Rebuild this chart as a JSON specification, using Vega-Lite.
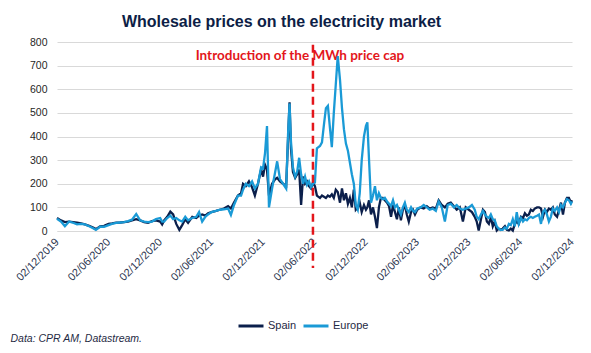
{
  "$schema": "https://vega.github.io/schema/vega-lite/v6.json",
  "autosize": {"type": "none"},
  "padding": {"left": 57, "top": 42, "right": 19, "bottom": 122},
  "width": 515,
  "height": 189,
  "background": "white",
  "config": {
    "view": {"stroke": null},
    "font": "Liberation Sans",
    "axisY": {
      "tickCount": 9,
      "labelOverlap": false,
      "domain": false,
      "ticks": false,
      "grid": true,
      "gridColor": "#d9d9d9",
      "gridWidth": 1,
      "labelFont": "Liberation Sans",
      "labelFontSize": 10.5,
      "labelColor": "#262626",
      "labelPadding": 10,
      "title": null
    }
  },
  "title": {
    "text": "Wholesale prices on the electricity market",
    "font": "Liberation Sans",
    "fontSize": 16,
    "fontWeight": "bold",
    "color": "#0d1e46",
    "anchor": "middle",
    "frame": "group",
    "dx": -33,
    "offset": 7
  },
  "datasets": {
    "prices": [
      {"date": "2019-12-02", "Spain": 55, "Europe": 52},
      {"date": "2019-12-16", "Spain": 45, "Europe": 40},
      {"date": "2019-12-30", "Spain": 38, "Europe": 20},
      {"date": "2020-01-14", "Spain": 40, "Europe": 40},
      {"date": "2020-01-28", "Spain": 38, "Europe": 35},
      {"date": "2020-02-11", "Spain": 35, "Europe": 28},
      {"date": "2020-02-25", "Spain": 32, "Europe": 30},
      {"date": "2020-03-10", "Spain": 28, "Europe": 28},
      {"date": "2020-03-25", "Spain": 22, "Europe": 20},
      {"date": "2020-04-08", "Spain": 15, "Europe": 12},
      {"date": "2020-04-18", "Spain": 8, "Europe": 5},
      {"date": "2020-05-03", "Spain": 20, "Europe": 18},
      {"date": "2020-05-17", "Spain": 22, "Europe": 18},
      {"date": "2020-06-02", "Spain": 30, "Europe": 25},
      {"date": "2020-06-14", "Spain": 32, "Europe": 30},
      {"date": "2020-06-29", "Spain": 35, "Europe": 34},
      {"date": "2020-07-13", "Spain": 36, "Europe": 36},
      {"date": "2020-07-27", "Spain": 38, "Europe": 38},
      {"date": "2020-08-10", "Spain": 40, "Europe": 42},
      {"date": "2020-08-24", "Spain": 45, "Europe": 48},
      {"date": "2020-09-08", "Spain": 50, "Europe": 72},
      {"date": "2020-09-22", "Spain": 45, "Europe": 45},
      {"date": "2020-10-06", "Spain": 38, "Europe": 40},
      {"date": "2020-10-20", "Spain": 35, "Europe": 38},
      {"date": "2020-11-03", "Spain": 42, "Europe": 40},
      {"date": "2020-11-17", "Spain": 45, "Europe": 50},
      {"date": "2020-12-02", "Spain": 40, "Europe": 55},
      {"date": "2020-12-09", "Spain": 28, "Europe": 40},
      {"date": "2020-12-16", "Spain": 45, "Europe": 40},
      {"date": "2020-12-27", "Spain": 60, "Europe": 55},
      {"date": "2021-01-07", "Spain": 82, "Europe": 65},
      {"date": "2021-01-17", "Spain": 70, "Europe": 50},
      {"date": "2021-01-28", "Spain": 30, "Europe": 55},
      {"date": "2021-02-08", "Spain": 5, "Europe": 45},
      {"date": "2021-02-18", "Spain": 25, "Europe": 40},
      {"date": "2021-03-01", "Spain": 50, "Europe": 60},
      {"date": "2021-03-11", "Spain": 35, "Europe": 45},
      {"date": "2021-03-26", "Spain": 60, "Europe": 55},
      {"date": "2021-04-09", "Spain": 55, "Europe": 60},
      {"date": "2021-04-19", "Spain": 65, "Europe": 80},
      {"date": "2021-04-30", "Spain": 70, "Europe": 40},
      {"date": "2021-05-11", "Spain": 65, "Europe": 60},
      {"date": "2021-05-21", "Spain": 75, "Europe": 70},
      {"date": "2021-06-02", "Spain": 80, "Europe": 80},
      {"date": "2021-06-18", "Spain": 85, "Europe": 85},
      {"date": "2021-07-02", "Spain": 90, "Europe": 90},
      {"date": "2021-07-16", "Spain": 95, "Europe": 92},
      {"date": "2021-07-31", "Spain": 105, "Europe": 95},
      {"date": "2021-08-10", "Spain": 95, "Europe": 68},
      {"date": "2021-08-21", "Spain": 120, "Europe": 110},
      {"date": "2021-09-04", "Spain": 150, "Europe": 150},
      {"date": "2021-09-15", "Spain": 160, "Europe": 150},
      {"date": "2021-09-22", "Spain": 200, "Europe": 175},
      {"date": "2021-10-02", "Spain": 190, "Europe": 200},
      {"date": "2021-10-13", "Spain": 210, "Europe": 190},
      {"date": "2021-10-24", "Spain": 185, "Europe": 210},
      {"date": "2021-11-03", "Spain": 150, "Europe": 180},
      {"date": "2021-11-14", "Spain": 200, "Europe": 200},
      {"date": "2021-11-25", "Spain": 260, "Europe": 270},
      {"date": "2021-12-02", "Spain": 230, "Europe": 265},
      {"date": "2021-12-09", "Spain": 280, "Europe": 330},
      {"date": "2021-12-16", "Spain": 260, "Europe": 444},
      {"date": "2021-12-23", "Spain": 150, "Europe": 100},
      {"date": "2022-01-03", "Spain": 200, "Europe": 180},
      {"date": "2022-01-14", "Spain": 220, "Europe": 250},
      {"date": "2022-01-21", "Spain": 225, "Europe": 295},
      {"date": "2022-01-31", "Spain": 210, "Europe": 220},
      {"date": "2022-02-11", "Spain": 200, "Europe": 200},
      {"date": "2022-02-22", "Spain": 190, "Europe": 180},
      {"date": "2022-03-01", "Spain": 400, "Europe": 420},
      {"date": "2022-03-06", "Spain": 545, "Europe": 540},
      {"date": "2022-03-11", "Spain": 350, "Europe": 380},
      {"date": "2022-03-18", "Spain": 250, "Europe": 270},
      {"date": "2022-03-26", "Spain": 225, "Europe": 230},
      {"date": "2022-04-02", "Spain": 240, "Europe": 250},
      {"date": "2022-04-09", "Spain": 260, "Europe": 310},
      {"date": "2022-04-16", "Spain": 110, "Europe": 240},
      {"date": "2022-04-23", "Spain": 230, "Europe": 200},
      {"date": "2022-04-30", "Spain": 200, "Europe": 230},
      {"date": "2022-05-07", "Spain": 210, "Europe": 195},
      {"date": "2022-05-14", "Spain": 190, "Europe": 210},
      {"date": "2022-05-21", "Spain": 180, "Europe": 185},
      {"date": "2022-05-28", "Spain": 205, "Europe": 200},
      {"date": "2022-06-04", "Spain": 190, "Europe": 205},
      {"date": "2022-06-11", "Spain": 150, "Europe": 350},
      {"date": "2022-06-22", "Spain": 140, "Europe": 360},
      {"date": "2022-06-29", "Spain": 150, "Europe": 375},
      {"date": "2022-07-06", "Spain": 145, "Europe": 450},
      {"date": "2022-07-13", "Spain": 140, "Europe": 520},
      {"date": "2022-07-20", "Spain": 150, "Europe": 530},
      {"date": "2022-07-27", "Spain": 145, "Europe": 440},
      {"date": "2022-08-03", "Spain": 155, "Europe": 355},
      {"date": "2022-08-10", "Spain": 140, "Europe": 500},
      {"date": "2022-08-17", "Spain": 175, "Europe": 620},
      {"date": "2022-08-24", "Spain": 165, "Europe": 740},
      {"date": "2022-09-01", "Spain": 120, "Europe": 640},
      {"date": "2022-09-08", "Spain": 180, "Europe": 520},
      {"date": "2022-09-15", "Spain": 130, "Europe": 430},
      {"date": "2022-09-22", "Spain": 160, "Europe": 370},
      {"date": "2022-09-29", "Spain": 115, "Europe": 340},
      {"date": "2022-10-06", "Spain": 140, "Europe": 290},
      {"date": "2022-10-13", "Spain": 100, "Europe": 240},
      {"date": "2022-10-20", "Spain": 175, "Europe": 200},
      {"date": "2022-10-27", "Spain": 90, "Europe": 110},
      {"date": "2022-11-03", "Spain": 100, "Europe": 90},
      {"date": "2022-11-10", "Spain": 120, "Europe": 160},
      {"date": "2022-11-17", "Spain": 80, "Europe": 300},
      {"date": "2022-11-25", "Spain": 110, "Europe": 400},
      {"date": "2022-12-02", "Spain": 90, "Europe": 445},
      {"date": "2022-12-07", "Spain": 100, "Europe": 460},
      {"date": "2022-12-13", "Spain": 130, "Europe": 300},
      {"date": "2022-12-20", "Spain": 70, "Europe": 120},
      {"date": "2022-12-27", "Spain": 100, "Europe": 150},
      {"date": "2023-01-03", "Spain": 60, "Europe": 190},
      {"date": "2023-01-10", "Spain": 12, "Europe": 130},
      {"date": "2023-01-17", "Spain": 100, "Europe": 160},
      {"date": "2023-01-24", "Spain": 140, "Europe": 140},
      {"date": "2023-01-31", "Spain": 140, "Europe": 135},
      {"date": "2023-02-07", "Spain": 130, "Europe": 140},
      {"date": "2023-02-15", "Spain": 120, "Europe": 125},
      {"date": "2023-02-22", "Spain": 105, "Europe": 115},
      {"date": "2023-03-01", "Spain": 60, "Europe": 105},
      {"date": "2023-03-08", "Spain": 110, "Europe": 130},
      {"date": "2023-03-15", "Spain": 80, "Europe": 100},
      {"date": "2023-03-22", "Spain": 50, "Europe": 110},
      {"date": "2023-03-29", "Spain": 100, "Europe": 90},
      {"date": "2023-04-05", "Spain": 45, "Europe": 70},
      {"date": "2023-04-12", "Spain": 90, "Europe": 100},
      {"date": "2023-04-19", "Spain": 110, "Europe": 120},
      {"date": "2023-04-26", "Spain": 70, "Europe": 90},
      {"date": "2023-05-03", "Spain": 40, "Europe": 80},
      {"date": "2023-05-11", "Spain": 80, "Europe": 100},
      {"date": "2023-05-18", "Spain": 90, "Europe": 85},
      {"date": "2023-05-25", "Spain": 70, "Europe": 80},
      {"date": "2023-06-02", "Spain": 90, "Europe": 95},
      {"date": "2023-06-14", "Spain": 100, "Europe": 100},
      {"date": "2023-06-25", "Spain": 95, "Europe": 110},
      {"date": "2023-07-06", "Spain": 105, "Europe": 100},
      {"date": "2023-07-16", "Spain": 95, "Europe": 90},
      {"date": "2023-07-27", "Spain": 100, "Europe": 95},
      {"date": "2023-08-07", "Spain": 95, "Europe": 85},
      {"date": "2023-08-17", "Spain": 130, "Europe": 125},
      {"date": "2023-08-28", "Spain": 110, "Europe": 100},
      {"date": "2023-09-08", "Spain": 100, "Europe": 40},
      {"date": "2023-09-18", "Spain": 115, "Europe": 110},
      {"date": "2023-09-29", "Spain": 120, "Europe": 115},
      {"date": "2023-10-10", "Spain": 105, "Europe": 100},
      {"date": "2023-10-20", "Spain": 90, "Europe": 110},
      {"date": "2023-10-31", "Spain": 100, "Europe": 95},
      {"date": "2023-11-11", "Spain": 40, "Europe": 90},
      {"date": "2023-11-21", "Spain": 100, "Europe": 95},
      {"date": "2023-12-02", "Spain": 90, "Europe": 100},
      {"date": "2023-12-13", "Spain": 80, "Europe": 110},
      {"date": "2023-12-23", "Spain": 60, "Europe": 90},
      {"date": "2023-12-30", "Spain": 40, "Europe": 60},
      {"date": "2024-01-06", "Spain": 2, "Europe": 50},
      {"date": "2024-01-14", "Spain": 50, "Europe": 70},
      {"date": "2024-01-21", "Spain": 90, "Europe": 85},
      {"date": "2024-01-28", "Spain": 80, "Europe": 70},
      {"date": "2024-02-04", "Spain": 40, "Europe": 60},
      {"date": "2024-02-11", "Spain": 30, "Europe": 55},
      {"date": "2024-02-18", "Spain": 60, "Europe": 70},
      {"date": "2024-02-25", "Spain": 20, "Europe": 50},
      {"date": "2024-03-03", "Spain": 40, "Europe": 45},
      {"date": "2024-03-10", "Spain": 2, "Europe": 20},
      {"date": "2024-03-17", "Spain": 10, "Europe": 10},
      {"date": "2024-03-24", "Spain": 5, "Europe": 5},
      {"date": "2024-03-31", "Spain": 10, "Europe": 5},
      {"date": "2024-04-08", "Spain": 20, "Europe": 15},
      {"date": "2024-04-15", "Spain": 5, "Europe": 10},
      {"date": "2024-04-22", "Spain": 2, "Europe": 30},
      {"date": "2024-04-29", "Spain": 10, "Europe": 25},
      {"date": "2024-05-06", "Spain": 2, "Europe": 50},
      {"date": "2024-05-13", "Spain": 30, "Europe": 20},
      {"date": "2024-05-20", "Spain": 40, "Europe": 80},
      {"date": "2024-05-27", "Spain": 30, "Europe": 30},
      {"date": "2024-06-04", "Spain": 60, "Europe": 55},
      {"date": "2024-06-11", "Spain": 55, "Europe": 40},
      {"date": "2024-06-18", "Spain": 75, "Europe": 50},
      {"date": "2024-06-25", "Spain": 65, "Europe": 45},
      {"date": "2024-07-02", "Spain": 70, "Europe": 55},
      {"date": "2024-07-09", "Spain": 90, "Europe": 60},
      {"date": "2024-07-16", "Spain": 85, "Europe": 55},
      {"date": "2024-07-23", "Spain": 95, "Europe": 60},
      {"date": "2024-07-31", "Spain": 100, "Europe": 65},
      {"date": "2024-08-07", "Spain": 100, "Europe": 70},
      {"date": "2024-08-14", "Spain": 95, "Europe": 30},
      {"date": "2024-08-21", "Spain": 60, "Europe": 80},
      {"date": "2024-08-28", "Spain": 90, "Europe": 90},
      {"date": "2024-09-04", "Spain": 80, "Europe": 70},
      {"date": "2024-09-11", "Spain": 95, "Europe": 40},
      {"date": "2024-09-18", "Spain": 90, "Europe": 60},
      {"date": "2024-09-25", "Spain": 100, "Europe": 95},
      {"date": "2024-10-02", "Spain": 70, "Europe": 85},
      {"date": "2024-10-10", "Spain": 60, "Europe": 100},
      {"date": "2024-10-17", "Spain": 90, "Europe": 80},
      {"date": "2024-10-24", "Spain": 120, "Europe": 110},
      {"date": "2024-10-31", "Spain": 70, "Europe": 100},
      {"date": "2024-11-07", "Spain": 120, "Europe": 120},
      {"date": "2024-11-14", "Spain": 140, "Europe": 135},
      {"date": "2024-11-21", "Spain": 140, "Europe": 130},
      {"date": "2024-11-28", "Spain": 120, "Europe": 115},
      {"date": "2024-12-02", "Spain": 130, "Europe": 125}
    ],
    "events": [
      {"date": "2022-05-28", "label": "Introduction of the MWh price cap"}
    ]
  },
  "encoding": {
    "x": {
      "field": "date",
      "type": "temporal",
      "scale": {
        "type": "utc",
        "domain": [
          {"year": 2019, "month": 12, "date": 2, "utc": true},
          {"year": 2024, "month": 12, "date": 2, "utc": true}
        ]
      },
      "axis": {
        "values": [
          {"year": 2019, "month": 12, "date": 2, "utc": true},
          {"year": 2020, "month": 6, "date": 2, "utc": true},
          {"year": 2020, "month": 12, "date": 2, "utc": true},
          {"year": 2021, "month": 6, "date": 2, "utc": true},
          {"year": 2021, "month": 12, "date": 2, "utc": true},
          {"year": 2022, "month": 6, "date": 2, "utc": true},
          {"year": 2022, "month": 12, "date": 2, "utc": true},
          {"year": 2023, "month": 6, "date": 2, "utc": true},
          {"year": 2023, "month": 12, "date": 2, "utc": true},
          {"year": 2024, "month": 6, "date": 2, "utc": true},
          {"year": 2024, "month": 12, "date": 2, "utc": true}
        ],
        "format": "%d/%m/%Y",
        "labelAngle": -45,
        "labelAlign": "right",
        "labelBaseline": "middle",
        "labelFont": "Liberation Sans",
        "labelFontSize": 11,
        "labelColor": "#2b3550",
        "labelPadding": 9,
        "labelOverlap": false,
        "labelBound": false,
        "labelFlush": false,
        "ticks": false,
        "grid": false,
        "domainColor": "#d9d9d9",
        "domainWidth": 1,
        "title": "Data: CPR AM, Datastream.",
        "titleX": -47,
        "titleY": 110,
        "titleAlign": "left",
        "titleAnchor": null,
        "titleBaseline": "alphabetic",
        "titleFont": "Liberation Sans",
        "titleFontSize": 10.5,
        "titleFontStyle": "italic",
        "titleFontWeight": "normal",
        "titleColor": "#1f2a44"
      }
    }
  },
  "layer": [
    {
      "data": {"name": "events"},
      "mark": {
        "type": "text",
        "font": "Lato",
        "fontSize": 13.5,
        "fontWeight": "bold",
        "color": "#e3161b",
        "align": "center",
        "baseline": "middle",
        "dx": -13
      },
      "encoding": {
        "y": {
          "datum": 741,
          "type": "quantitative",
          "scale": {"domain": [0, 800], "nice": false},
          "axis": {"values": [0, 100, 200, 300, 400, 500, 600, 700, 800], "tickCount": 9, "labelOverlap": false}
        },
        "text": {"field": "label"}
      }
    },
    {
      "data": {"name": "prices"},
      "mark": {"type": "line", "strokeWidth": 2.3, "interpolate": "linear"},
      "encoding": {
        "y": {
          "field": "Spain",
          "type": "quantitative",
          "axis": {"values": [0, 100, 200, 300, 400, 500, 600, 700, 800], "tickCount": 9, "labelOverlap": false}
        },
        "color": {
          "datum": "Spain",
          "type": "nominal",
          "scale": {"domain": ["Spain", "Europe"], "range": ["#0b1f4b", "#1a9ad6"]},
          "legend": {
            "title": null,
            "orient": "none",
            "direction": "horizontal",
            "legendX": 180,
            "legendY": 270,
            "symbolType": "stroke",
            "symbolSize": 625,
            "symbolStrokeWidth": 3,
            "labelFont": "Liberation Sans",
            "labelFontSize": 11,
            "labelColor": "#1f2a44",
            "labelOffset": 3,
            "columnPadding": 0
          }
        }
      }
    },
    {
      "data": {"name": "prices"},
      "mark": {"type": "line", "strokeWidth": 2.3, "interpolate": "linear"},
      "encoding": {
        "y": {
          "field": "Europe",
          "type": "quantitative",
          "axis": {"values": [0, 100, 200, 300, 400, 500, 600, 700, 800], "tickCount": 9, "labelOverlap": false}
        },
        "color": {"datum": "Europe", "type": "nominal"}
      }
    },
    {
      "data": {"name": "events"},
      "mark": {"type": "rule", "color": "#e3161b", "strokeWidth": 2.5, "strokeDash": [8, 5]},
      "encoding": {
        "y": {"datum": 788, "type": "quantitative"},
        "y2": {"datum": -157}
      }
    }
  ]
}
